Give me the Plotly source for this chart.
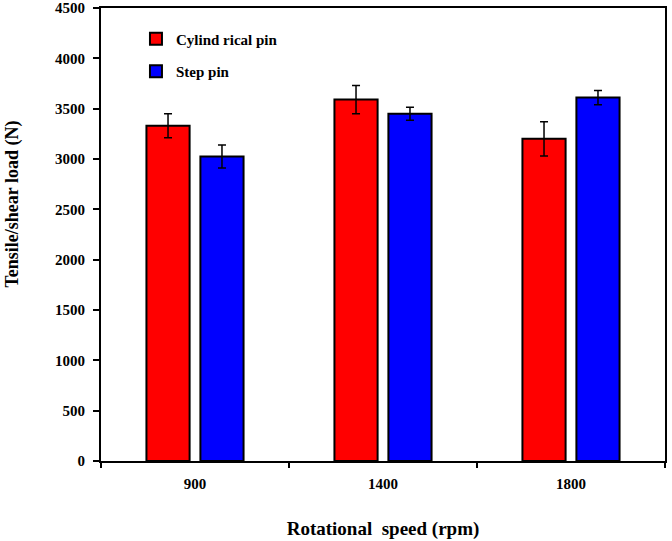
import plotly.graph_objects as go

categories = ["900", "1400", "1800"]
cyl_values = [3330, 3590, 3200]
cyl_err = [120, 140, 170]
step_values = [3025, 3450, 3610]
step_err = [115, 65, 70]
y_ticks = [0, 500, 1000, 1500, 2000, 2500, 3000, 3500, 4000, 4500]

font_family = "Liberation Serif"

fig = go.Figure()
fig.add_trace(go.Bar(
    x=categories, y=cyl_values, name="<b>Cylind rical pin</b>",
    marker=dict(color="#FF0000", line=dict(color="black", width=2)),
    error_y=dict(type="data", array=cyl_err, color="black", thickness=1.5, width=4),
    legendgroup="a",
))
fig.add_trace(go.Bar(
    x=categories, y=step_values, name="<b>Step pin</b>",
    marker=dict(color="#0000FF", line=dict(color="black", width=2)),
    error_y=dict(type="data", array=step_err, color="black", thickness=1.5, width=4),
    legendgroup="b",
))

fig.update_layout(
    width=672, height=541,
    margin=dict(l=101, r=7, t=8, b=80, autoexpand=False),
    paper_bgcolor="white", plot_bgcolor="white",
    barmode="group", bargap=0.426, bargroupgap=0.2,
    font=dict(family=font_family, color="black", size=15),
    showlegend=True,
    legend=dict(x=0.062, y=0.968, xanchor="left", yanchor="top",
                bgcolor="rgba(0,0,0,0)", tracegroupgap=10,
                font=dict(size=15, family=font_family),
                itemwidth=30),
    xaxis=dict(
        title=dict(text="<b>Rotational  speed (rpm)</b>", font=dict(size=19), standoff=31),
        automargin=False,
        showline=True, linecolor="black", linewidth=2, mirror=True,
        ticks="outside", tickson="boundaries", ticklen=5, tickcolor="black", tickwidth=2,
        ticklabelstandoff=8,
        tickfont=dict(size=15),
        tickvals=categories, ticktext=["<b>%s</b>" % c for c in categories],
    ),
    yaxis=dict(
        automargin=False,
        range=[0, 4500], tickvals=y_ticks,
        ticktext=["<b>%d</b>" % v for v in y_ticks],
        showline=True, linecolor="black", linewidth=2, mirror=True,
        ticks="outside", ticklen=6, tickcolor="black", tickwidth=2,
        ticklabelstandoff=5,
        showgrid=False, zeroline=False, tickfont=dict(size=15),
    ),
    annotations=[dict(
        text="<b>Tensile/shear load (N)</b>", textangle=-90,
        xref="paper", yref="paper", x=-0.156, y=0.566,
        xanchor="center", yanchor="middle", showarrow=False,
        font=dict(size=18, family=font_family, color="black"),
    )],
)

fig.write_html("out.html", config={"displayModeBar": False},
               post_script="document.body.style.margin='0';")
